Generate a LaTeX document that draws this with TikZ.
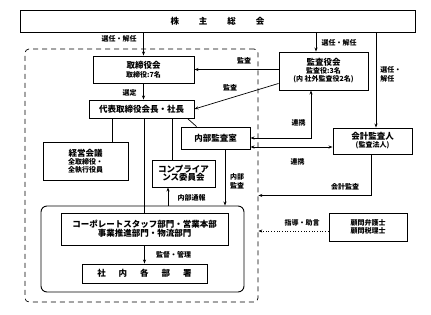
\documentclass[tikz,border=0pt]{standalone}
\usepackage{fontspec}
\setmainfont{Noto Sans CJK JP}
\usetikzlibrary{arrows.meta, calc, positioning}

\newcommand{\smalltxt}{\fontsize{7}{9}\selectfont}

\begin{document}
\begin{tikzpicture}[x=1pt, y=-1pt, line width=0.7pt,
  font=\bfseries\fontsize{8.5}{11}\selectfont,
  box/.style={draw, line width=0.9pt, inner sep=1pt, align=center},
  lbl/.style={font=\bfseries\fontsize{7}{9}\selectfont, inner sep=0pt, align=left},
  arr/.style={-{Stealth[length=4pt, width=3pt]}},
  arrboth/.style={{Stealth[length=4pt, width=3pt]}-{Stealth[length=4pt, width=3pt]}}]

\useasboundingbox (0,0) rectangle (431,314);

% Company frame (dashed) and business departments (rounded)
\node[draw, dash pattern=on 5pt off 4pt, rounded corners=4pt,
  minimum width=233pt, minimum height=253pt] (group) at (141.5,175.5) {};
\node[draw, line width=0.9pt, rounded corners=6pt,
  minimum width=203pt, minimum height=86pt] (dept) at (142.5,249) {};

% Boxes
\node[box, minimum width=395pt, minimum height=22pt] (soukai) at (217.5,21)
  {株\hspace{20pt}主\hspace{20pt}総\hspace{20pt}会};
\node[box, minimum width=101pt, minimum height=27pt] (torishimari) at (143.5,69.5)
  {取締役会\\[-2pt]{\smalltxt 取締役:7名}};
\node[box, minimum width=89pt, minimum height=38pt] (kansayaku) at (323.5,71)
  {監査役会\\[-3pt]{\smalltxt 監査役:3名}\\[-3pt]{\smalltxt (内 社外監査役2名)}};
\node[box, minimum width=105pt, minimum height=18pt] (daihyo) at (141.5,109)
  {代表取締役会長・社長};
\node[box, minimum width=85pt, minimum height=38pt] (keiei) at (85.5,161)
  {経営会議\\[-3pt]{\smalltxt 全取締役・}\\[-3pt]{\smalltxt 全執行役員}};
\node[box, minimum width=63pt, minimum height=27pt] (comp) at (183.5,173.5)
  {コンプライア\\[-3pt]ンス委員会};
\node[box, minimum width=69pt, minimum height=22pt] (naibu) at (215.5,138)
  {内部監査室};
\node[box, minimum width=79pt, minimum height=26pt] (kaikei) at (372.5,141)
  {会計監査人\\[-3pt]{\smalltxt (監査法人)}};
\node[box, minimum width=167pt, minimum height=32pt] (corp) at (144.5,229)
  {コーポレートスタッフ部門・営業本部\\[-2pt]事業推進部門・物流部門};
\node[box, minimum width=125pt, minimum height=19pt] (shanai) at (144.5,273.5)
  {社\hspace{13pt}内\hspace{13pt}各\hspace{13pt}部\hspace{13pt}署};
\node[box, minimum width=78pt, minimum height=28pt] (komon) at (368,227)
  {{\smalltxt 顧問弁護士}\\[-3pt]{\smalltxt 顧問税理士}};

% Appointment
\draw[arr] (soukai.south -| torishimari.north) -- (torishimari.north);
\draw[arr] ([xshift=-7.5pt]kansayaku.north |- soukai.south) -- ([xshift=-7.5pt]kansayaku.north);
\draw[arr] ([xshift=3.5pt]kaikei.north |- soukai.south) -- ([xshift=3.5pt]kaikei.north);
\node[lbl] (l_sen1) at (119,39) {選任・解任};
\node[lbl] (l_sen2) at (339,43) {選任・解任};
\node[lbl, anchor=west] (l_sen3) at (380,74) {選任・\\解任};

% Audit by kansayaku
\draw[arr] (kansayaku.west |- torishimari.east) -- (torishimari.east);
\draw[arr] ([yshift=7pt]kansayaku.south west) -- (daihyo.east);
\node[lbl] (l_kansa1) at (244,61) {監査};
\node[lbl] (l_kansa2) at (230,88) {監査};

% Board -> president
\draw[arr] (torishimari.south) -- (torishimari.south |- daihyo.north);
\node[lbl] (l_sentei) at (129.5,93) {選定};

% President -> bodies
\draw ([xshift=-29.5pt]daihyo.south) -- ([xshift=-29.5pt]daihyo.south |- keiei.north);
\draw (corp.north |- daihyo.south) -- (corp.north);
\draw ([xshift=-11.5pt]comp.north |- daihyo.south) -- ([xshift=-11.5pt]comp.north);
\draw ([xshift=-7pt]daihyo.south east) -- ([xshift=16pt]naibu.north west);

% Internal reporting / internal audit
\draw[arr] ([xshift=-15.5pt]comp.south |- dept.north) -- ([xshift=-15.5pt]comp.south);
\node[lbl] (l_tsuho) at (191.5,198) {内部通報};
\draw[arr] ([xshift=9.5pt]naibu.south) -- ([xshift=9.5pt]naibu.south |- dept.north);
\node[lbl] (l_naibu) at (237,181) {内部\\監査};

% Cooperation
\draw[arrboth] (naibu.east) -| ([xshift=-12.5pt]kansayaku.south);
\node[lbl] (l_renkei1) at (298.5,123) {連携};
\draw[arrboth] ([yshift=-9pt]naibu.east) -- ([yshift=-9pt]naibu.east -| kaikei.west);
\node[lbl] (l_renkei2) at (297.5,162) {連携};

% Accounting audit
\draw[arr] ([xshift=-1.5pt]kaikei.south) |- ([yshift=-41pt]group.east |- kaikei.south);
\node[lbl] (l_kaikei) at (345,187) {会計監査};

% Advisors
\draw[arr, dotted] ([yshift=-4pt]komon.west) -- ([yshift=-4pt]group.east |- komon.west);
\node[lbl] (l_shido) at (302,223) {指導・助言};

% Supervision
\draw[arr] (corp.south) -- (corp.south |- shanai.north);
\node[lbl] (l_kantoku) at (173.5,255) {監督・管理};

\end{tikzpicture}
\end{document}
